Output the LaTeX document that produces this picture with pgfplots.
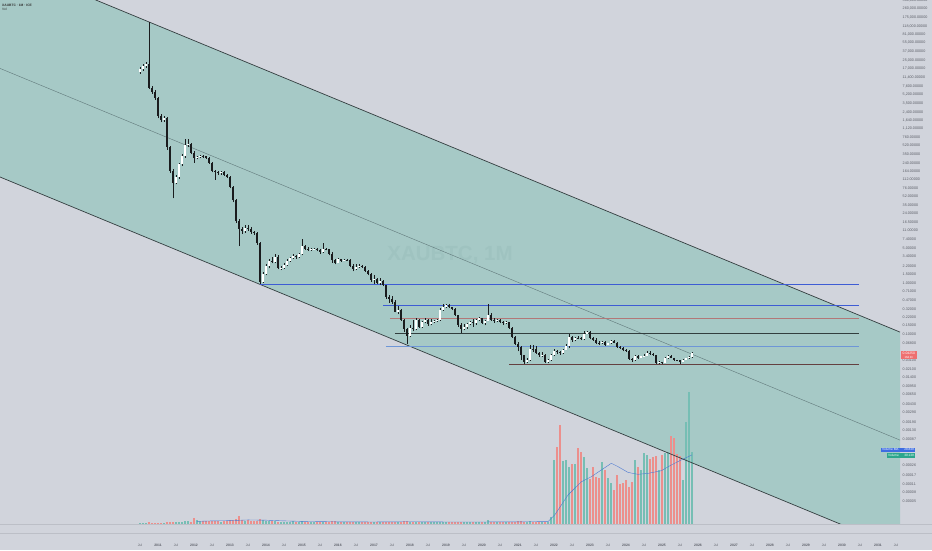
\documentclass[border=0pt]{standalone}
\usepackage{pgfplots}
\pgfplotsset{compat=1.18}
\usepackage{fontspec}
\setmainfont{Liberation Sans}
\definecolor{bgc}{RGB}{209,212,220}
\definecolor{chan}{RGB}{166,201,198}
\definecolor{chanline}{RGB}{52,62,64}
\definecolor{midline}{RGB}{96,120,122}
\definecolor{candle}{RGB}{26,28,30}
\definecolor{volup}{RGB}{118,190,180}
\definecolor{voldn}{RGB}{236,143,140}
\definecolor{maline}{RGB}{74,120,210}
\definecolor{hblue}{RGB}{62,92,212}
\definecolor{hred}{RGB}{178,120,120}
\definecolor{hdark}{RGB}{50,62,62}
\definecolor{hlblue}{RGB}{110,150,215}
\definecolor{hbrown}{RGB}{100,64,64}
\definecolor{lbl}{RGB}{92,95,104}
\definecolor{sep}{RGB}{188,191,199}
\definecolor{wmark}{RGB}{159,195,192}
\definecolor{redbox}{RGB}{238,112,112}
\definecolor{bluebox}{RGB}{62,108,226}
\definecolor{greenbox}{RGB}{44,166,140}
\pgfplotsset{
  myframe/.style={scale only axis, width=900pt, height=524pt, at={(0pt,-524pt)}, anchor=south west,
    xmin=2006.6111, xmax=2031.6111},
}
\tikzset{plab/.style={anchor=west, inner sep=0pt, font=\fontsize{3.7}{4}\selectfont, text=lbl}}
\begin{document}
\begin{tikzpicture}
\useasboundingbox (0pt,0pt) rectangle (932pt,-550pt);
\fill[bgc] (0pt,0pt) rectangle (932pt,-550pt);
% ---------- price axis: channel fill + time scale
\begin{axis}[myframe, ymode=log, ymin=1.84e-5, ymax=3.855e5,
  axis line style={draw=none}, major tick length=0pt, minor tick length=0pt,
  ytick=\empty, xtick pos=bottom,
  xtick={2010.5,2011,...,2031.5},
  xticklabels={Jul,\textbf{2011},Jul,\textbf{2012},Jul,\textbf{2013},Jul,\textbf{2014},Jul,\textbf{2015},Jul,\textbf{2016},Jul,\textbf{2017},Jul,\textbf{2018},Jul,\textbf{2019},Jul,\textbf{2020},Jul,\textbf{2021},Jul,\textbf{2022},Jul,\textbf{2023},Jul,\textbf{2024},Jul,\textbf{2025},Jul,\textbf{2026},Jul,\textbf{2027},Jul,\textbf{2028},Jul,\textbf{2029},Jul,\textbf{2030},Jul,\textbf{2031},Jul},
  xticklabel style={font=\fontsize{3.4}{4}\selectfont, text=lbl, anchor=center, inner sep=0pt, yshift=-21pt},
]
\addplot[fill=chan, draw=none] coordinates {(2006.6111,2.32e6) (2031.6111,0.1109) (2031.6111,6.0e-6) (2006.6111,125.8) (2006.6111,2.32e6)};
\end{axis}
% price scale labels (log scale: Y = 50.768*(5.586 - log10 v))
\node[plab] at (902.5pt,-0.31pt) {380,000.00000};
\node[plab] at (902.5pt,-8.68pt) {260,000.00000};
\node[plab] at (902.5pt,-17.41pt) {175,000.00000};
\node[plab] at (902.5pt,-26.10pt) {118,000.00000};
\node[plab] at (902.5pt,-34.40pt) {81,000.00000};
\node[plab] at (902.5pt,-42.93pt) {55,000.00000};
\node[plab] at (902.5pt,-51.67pt) {37,000.00000};
\node[plab] at (902.5pt,-60.32pt) {25,000.00000};
\node[plab] at (902.5pt,-68.82pt) {17,000.00000};
\node[plab] at (902.5pt,-77.63pt) {11,400.00000};
\node[plab] at (902.5pt,-86.57pt) {7,600.00000};
\node[plab] at (902.5pt,-94.93pt) {5,200.00000};
\node[plab] at (902.5pt,-103.66pt) {3,500.00000};
\node[plab] at (902.5pt,-111.98pt) {2,400.00000};
\node[plab] at (902.5pt,-120.38pt) {1,640.00000};
\node[plab] at (902.5pt,-128.79pt) {1,120.00000};
\node[plab] at (902.5pt,-137.34pt) {760.00000};
\node[plab] at (902.5pt,-145.70pt) {520.00000};
\node[plab] at (902.5pt,-154.43pt) {350.00000};
\node[plab] at (902.5pt,-162.75pt) {240.00000};
\node[plab] at (902.5pt,-171.15pt) {164.00000};
\node[plab] at (902.5pt,-179.55pt) {112.00000};
\node[plab] at (902.5pt,-188.10pt) {76.00000};
\node[plab] at (902.5pt,-196.47pt) {52.00000};
\node[plab] at (902.5pt,-205.19pt) {35.00000};
\node[plab] at (902.5pt,-213.51pt) {24.00000};
\node[plab] at (902.5pt,-221.77pt) {16.50000};
\node[plab] at (902.5pt,-230.71pt) {11.00000};
\node[plab] at (902.5pt,-239.46pt) {7.40000};
\node[plab] at (902.5pt,-248.10pt) {5.00000};
\node[plab] at (902.5pt,-256.60pt) {3.40000};
\node[plab] at (902.5pt,-266.20pt) {2.20000};
\node[plab] at (902.5pt,-274.65pt) {1.50000};
\node[plab] at (902.5pt,-283.59pt) {1.00000};
\node[plab] at (902.5pt,-291.14pt) {0.71000};
\node[plab] at (902.5pt,-300.24pt) {0.47000};
\node[plab] at (902.5pt,-308.72pt) {0.32000};
\node[plab] at (902.5pt,-316.98pt) {0.22000};
\node[plab] at (902.5pt,-325.42pt) {0.15000};
\node[plab] at (902.5pt,-334.36pt) {0.10000};
\node[plab] at (902.5pt,-342.86pt) {0.06800};
\node[plab] at (902.5pt,-360.18pt) {0.03100};
\node[plab] at (902.5pt,-368.77pt) {0.02100};
\node[plab] at (902.5pt,-377.71pt) {0.01400};
\node[plab] at (902.5pt,-386.26pt) {0.00950};
\node[plab] at (902.5pt,-394.63pt) {0.00650};
\node[plab] at (902.5pt,-403.73pt) {0.00430};
\node[plab] at (902.5pt,-412.42pt) {0.00290};
\node[plab] at (902.5pt,-421.74pt) {0.00190};
\node[plab] at (902.5pt,-430.11pt) {0.00130};
\node[plab] at (902.5pt,-438.97pt) {0.00087};
\node[plab] at (902.5pt,-465.59pt) {0.00026};
\node[plab] at (902.5pt,-474.97pt) {0.00017};
\node[plab] at (902.5pt,-484.56pt) {0.00011};
\node[plab] at (902.5pt,-492.14pt) {0.00008};
\node[plab] at (902.5pt,-501.08pt) {0.00005};
\node[font=\fontsize{20.5}{22}\selectfont\bfseries, text=wmark, inner sep=0pt] at (450pt,-255pt) {XAUBTC, 1M};
% ---------- volume pane
\begin{axis}[myframe, ymin=0, ymax=218.33, hide axis]
\addplot[ycomb, draw=voldn, line width=2.1pt, mark=none] coordinates {
(2010.750,0.9)(2010.833,0.6)(2010.917,0.5)(2011.000,0.6)(2011.083,0.5)(2011.250,0.8)(2011.333,0.9)(2011.417,1.0)(2011.917,1.0)
(2012.000,2.4)(2012.250,1.2)(2012.333,1.1)(2012.417,1.2)(2012.500,1.4)(2012.583,1.3)(2012.667,1.1)(2012.833,1.2)(2012.917,1.3)
(2013.000,1.5)(2013.083,1.6)(2013.167,2.0)(2013.250,3.3)(2013.333,1.8)(2013.500,1.5)(2013.583,1.3)(2013.667,1.2)(2013.750,1.4)(2013.833,1.9)
(2014.167,1.1)(2014.333,1.0)(2014.833,0.9)(2015.083,1.0)(2015.167,0.9)(2015.417,0.9)(2015.500,0.8)(2015.667,0.8)(2015.750,0.9)(2015.833,1.2)(2015.917,1.2)
(2016.083,0.8)(2016.250,0.7)(2016.333,0.8)(2016.417,0.9)(2016.667,0.7)(2016.750,0.8)(2016.833,0.9)(2016.917,1.0)
(2017.083,0.8)(2017.250,0.9)(2017.333,1.0)(2017.417,1.0)(2017.500,0.9)(2017.583,1.0)(2017.750,1.0)(2017.833,1.1)(2017.917,1.2)
(2018.083,0.9)(2018.250,0.8)(2018.500,0.8)(2019.083,0.7)(2019.167,0.8)(2019.250,0.9)(2019.333,1.0)(2019.417,1.0)(2019.750,0.9)
(2020.000,0.8)(2020.250,0.9)(2020.333,0.8)(2020.500,0.8)(2020.583,0.8)(2020.750,0.8)(2020.833,0.9)(2020.917,1.0)
(2021.000,1.4)(2021.083,1.1)(2021.167,1.0)(2021.417,1.0)(2021.500,0.9)(2021.583,0.8)(2021.750,0.9)
(2022.083,32.2)(2022.167,41.3)(2022.500,25.0)(2022.667,31.5)(2022.750,30.1)
(2023.000,18.8)(2023.083,23.9)(2023.167,19.7)(2023.250,19.0)(2023.417,22.5)(2023.667,14.2)(2023.750,20.4)(2023.833,16.5)(2023.917,17.0)
(2024.000,18.3)(2024.083,15.5)(2024.167,17.6)(2024.333,23.9)(2024.667,27.1)(2024.750,28.0)(2024.833,28.5)
(2025.000,28.8)(2025.250,36.8)(2025.333,35.7)(2025.417,29.0)(2025.500,28.5)
};
\addplot[ycomb, draw=volup, line width=2.1pt, mark=none] coordinates {
(2010.500,0.3)(2010.583,0.4)(2010.667,0.4)(2011.167,0.5)(2011.500,0.8)(2011.583,0.9)(2011.667,1.0)(2011.750,1.1)(2011.833,1.2)
(2012.083,1.5)(2012.167,1.3)(2012.750,1.0)(2013.417,1.4)(2013.917,1.6)
(2014.000,1.3)(2014.083,1.2)(2014.250,1.2)(2014.417,0.9)(2014.500,0.9)(2014.583,1.0)(2014.667,1.0)(2014.750,1.1)(2014.917,0.9)
(2015.000,1.4)(2015.250,0.8)(2015.333,0.8)(2015.583,1.0)(2016.000,0.9)(2016.167,0.8)(2016.500,0.8)(2016.583,0.8)
(2017.000,0.9)(2017.167,0.9)(2017.667,0.9)(2018.000,1.0)(2018.167,0.9)(2018.333,0.8)(2018.417,0.7)(2018.583,0.8)(2018.667,0.7)(2018.750,0.7)(2018.833,0.9)(2018.917,0.9)
(2019.000,0.8)(2019.500,0.9)(2019.583,0.8)(2019.667,0.8)(2019.833,0.8)(2019.917,0.8)
(2020.083,0.8)(2020.167,1.5)(2020.417,0.7)(2020.667,0.7)(2021.250,0.9)(2021.333,1.2)(2021.667,0.8)(2021.833,0.9)(2021.917,3.0)
(2022.000,26.7)(2022.250,26.3)(2022.333,26.7)(2022.417,23.9)(2022.583,25.0)(2022.833,28.0)(2022.917,23.2)
(2023.333,25.7)(2023.500,19.0)(2023.583,17.0)(2024.250,26.7)(2024.417,22.5)(2024.500,29.5)(2024.583,28.8)(2024.917,22.5)
(2025.083,29.5)(2025.167,30.1)(2025.583,18.3)(2025.667,42.6)(2025.750,55.1)(2025.833,30.1)
};
\addplot[maline, line width=0.4pt, mark=none] coordinates {
(2012.083,1.1)(2012.5,1.3)(2013.0,1.4)(2013.5,1.7)(2014.0,1.6)(2014.5,1.3)(2015.0,1.1)(2016.0,0.9)(2017.0,0.85)(2018.0,0.95)(2019.0,0.85)(2020.0,0.85)(2021.0,0.9)(2021.833,1.0)
(2022.019,3.75)(2022.389,12.1)(2022.758,17.6)(2023.036,19.7)(2023.314,22.5)(2023.592,25.3)(2023.778,23.9)(2024.056,21.5)(2024.333,20.7)(2024.611,21.1)(2024.981,22.2)(2025.258,24.6)(2025.536,26.7)(2025.722,28.0)(2025.833,28.8)
};
\end{axis}
% ---------- drawings and candles
\begin{axis}[myframe, ymode=log, ymin=1.84e-5, ymax=3.855e5, hide axis, unbounded coords=jump]
\addplot[midline, line width=0.4pt] coordinates {(2006.6111,17330) (2031.6111,8.27e-4)};
\addplot[chanline, line width=0.7pt] coordinates {(2006.6111,2.32e6) (2031.6111,0.1109)};
\addplot[chanline, line width=0.7pt] coordinates {(2006.6111,125.8) (2031.6111,6.0e-6)};
\addplot[hblue, line width=0.7pt] coordinates {(2013.833,0.969) (2030.481,0.969)};
\addplot[hblue, line width=0.7pt] coordinates {(2017.258,0.367) (2030.481,0.367)};
\addplot[hred, line width=0.5pt] coordinates {(2017.444,0.2072) (2030.481,0.2072)};
\addplot[hdark, line width=0.6pt] coordinates {(2017.583,0.105) (2030.481,0.105)};
\addplot[hlblue, line width=0.5pt] coordinates {(2017.333,0.059) (2030.481,0.059)};
\addplot[hbrown, line width=0.6pt] coordinates {(2020.758,0.02573) (2030.481,0.02573)};
% wicks (low, high)
\addplot[candle, line width=0.5pt] coordinates {
(2010.500,13500)(2010.500,18500)(2010.500,nan)
(2010.583,15500)(2010.583,21500)(2010.583,nan)
(2010.667,18000)(2010.667,23000)(2010.667,nan)
(2010.750,6800)(2010.750,140000)(2010.750,nan)
(2010.833,5500)(2010.833,7800)(2010.833,nan)
(2010.917,4200)(2010.917,6500)(2010.917,nan)
(2011.000,1800)(2011.000,4800)(2011.000,nan)
(2011.083,1500)(2011.083,2200)(2011.083,nan)
(2011.167,1550)(2011.167,2000)(2011.167,nan)
(2011.250,430)(2011.250,1900)(2011.250,nan)
(2011.333,150)(2011.333,520)(2011.333,nan)
(2011.417,48)(2011.417,180)(2011.417,nan)
(2011.500,90)(2011.500,140)(2011.500,nan)
(2011.583,115)(2011.583,240)(2011.583,nan)
(2011.667,210)(2011.667,360)(2011.667,nan)
(2011.750,300)(2011.750,700)(2011.750,nan)
(2011.833,480)(2011.833,720)(2011.833,nan)
(2011.917,350)(2011.917,600)(2011.917,nan)
(2012.000,240)(2012.000,400)(2012.000,nan)
(2012.083,280)(2012.083,330)(2012.083,nan)
(2012.167,295)(2012.167,345)(2012.167,nan)
(2012.250,300)(2012.250,340)(2012.250,nan)
(2012.333,285)(2012.333,330)(2012.333,nan)
(2012.417,230)(2012.417,310)(2012.417,nan)
(2012.500,155)(2012.500,250)(2012.500,nan)
(2012.583,110)(2012.583,175)(2012.583,nan)
(2012.667,140)(2012.667,168)(2012.667,nan)
(2012.750,140)(2012.750,165)(2012.750,nan)
(2012.833,132)(2012.833,162)(2012.833,nan)
(2012.917,120)(2012.917,145)(2012.917,nan)
(2013.000,75)(2013.000,132)(2013.000,nan)
(2013.083,40)(2013.083,83)(2013.083,nan)
(2013.167,15.5)(2013.167,46)(2013.167,nan)
(2013.250,5.5)(2013.250,19)(2013.250,nan)
(2013.333,9.5)(2013.333,13)(2013.333,nan)
(2013.417,10)(2013.417,14)(2013.417,nan)
(2013.500,11)(2013.500,14)(2013.500,nan)
(2013.583,9.6)(2013.583,12.8)(2013.583,nan)
(2013.667,9.0)(2013.667,11)(2013.667,nan)
(2013.750,5.8)(2013.750,10.3)(2013.750,nan)
(2013.833,0.97)(2013.833,6.6)(2013.833,nan)
(2013.917,1.05)(2013.917,1.7)(2013.917,nan)
(2014.000,1.45)(2014.000,2.4)(2014.000,nan)
(2014.083,2.0)(2014.083,3.1)(2014.083,nan)
(2014.167,2.5)(2014.167,3.4)(2014.167,nan)
(2014.250,2.5)(2014.250,3.9)(2014.250,nan)
(2014.333,1.9)(2014.333,3.6)(2014.333,nan)
(2014.417,1.85)(2014.417,2.2)(2014.417,nan)
(2014.500,1.95)(2014.500,2.5)(2014.500,nan)
(2014.583,2.25)(2014.583,3.0)(2014.583,nan)
(2014.667,2.7)(2014.667,3.4)(2014.667,nan)
(2014.750,3.1)(2014.750,3.8)(2014.750,nan)
(2014.833,3.1)(2014.833,3.7)(2014.833,nan)
(2014.917,3.2)(2014.917,4.0)(2014.917,nan)
(2015.000,3.6)(2015.000,7.5)(2015.000,nan)
(2015.083,4.6)(2015.083,5.8)(2015.083,nan)
(2015.167,4.4)(2015.167,5.2)(2015.167,nan)
(2015.250,4.4)(2015.250,5.0)(2015.250,nan)
(2015.333,4.6)(2015.333,5.1)(2015.333,nan)
(2015.417,4.3)(2015.417,5.1)(2015.417,nan)
(2015.500,3.9)(2015.500,4.7)(2015.500,nan)
(2015.583,4.0)(2015.583,6.2)(2015.583,nan)
(2015.667,4.5)(2015.667,5.1)(2015.667,nan)
(2015.750,3.6)(2015.750,4.9)(2015.750,nan)
(2015.833,2.6)(2015.833,4.1)(2015.833,nan)
(2015.917,2.4)(2015.917,3.1)(2015.917,nan)
(2016.000,2.5)(2016.000,3.2)(2016.000,nan)
(2016.083,2.7)(2016.083,3.1)(2016.083,nan)
(2016.167,2.75)(2016.167,3.1)(2016.167,nan)
(2016.250,2.8)(2016.250,3.05)(2016.250,nan)
(2016.333,2.1)(2016.333,3.0)(2016.333,nan)
(2016.417,1.75)(2016.417,2.4)(2016.417,nan)
(2016.500,1.85)(2016.500,2.4)(2016.500,nan)
(2016.583,2.05)(2016.583,2.4)(2016.583,nan)
(2016.667,2.05)(2016.667,2.35)(2016.667,nan)
(2016.750,1.7)(2016.750,2.2)(2016.750,nan)
(2016.833,1.45)(2016.833,1.85)(2016.833,nan)
(2016.917,1.1)(2016.917,1.6)(2016.917,nan)
(2017.000,1.0)(2017.000,1.5)(2017.000,nan)
(2017.083,1.0)(2017.083,1.3)(2017.083,nan)
(2017.167,0.95)(2017.167,1.3)(2017.167,nan)
(2017.250,0.88)(2017.250,1.2)(2017.250,nan)
(2017.333,0.5)(2017.333,0.95)(2017.333,nan)
(2017.417,0.42)(2017.417,0.6)(2017.417,nan)
(2017.500,0.4)(2017.500,0.56)(2017.500,nan)
(2017.583,0.27)(2017.583,0.47)(2017.583,nan)
(2017.667,0.25)(2017.667,0.36)(2017.667,nan)
(2017.750,0.185)(2017.750,0.31)(2017.750,nan)
(2017.833,0.11)(2017.833,0.2)(2017.833,nan)
(2017.917,0.066)(2017.917,0.135)(2017.917,nan)
(2018.000,0.088)(2018.000,0.155)(2018.000,nan)
(2018.083,0.115)(2018.083,0.19)(2018.083,nan)
(2018.167,0.12)(2018.167,0.21)(2018.167,nan)
(2018.250,0.135)(2018.250,0.2)(2018.250,nan)
(2018.333,0.135)(2018.333,0.18)(2018.333,nan)
(2018.417,0.165)(2018.417,0.21)(2018.417,nan)
(2018.500,0.148)(2018.500,0.2)(2018.500,nan)
(2018.583,0.15)(2018.583,0.2)(2018.583,nan)
(2018.667,0.165)(2018.667,0.19)(2018.667,nan)
(2018.750,0.175)(2018.750,0.2)(2018.750,nan)
(2018.833,0.185)(2018.833,0.33)(2018.833,nan)
(2018.917,0.29)(2018.917,0.4)(2018.917,nan)
(2019.000,0.33)(2019.000,0.4)(2019.000,nan)
(2019.083,0.33)(2019.083,0.39)(2019.083,nan)
(2019.167,0.3)(2019.167,0.35)(2019.167,nan)
(2019.250,0.23)(2019.250,0.33)(2019.250,nan)
(2019.333,0.14)(2019.333,0.245)(2019.333,nan)
(2019.417,0.105)(2019.417,0.165)(2019.417,nan)
(2019.500,0.12)(2019.500,0.16)(2019.500,nan)
(2019.583,0.13)(2019.583,0.165)(2019.583,nan)
(2019.667,0.15)(2019.667,0.185)(2019.667,nan)
(2019.750,0.14)(2019.750,0.2)(2019.750,nan)
(2019.833,0.155)(2019.833,0.2)(2019.833,nan)
(2019.917,0.185)(2019.917,0.22)(2019.917,nan)
(2020.000,0.16)(2020.000,0.215)(2020.000,nan)
(2020.083,0.15)(2020.083,0.19)(2020.083,nan)
(2020.167,0.18)(2020.167,0.4)(2020.167,nan)
(2020.250,0.185)(2020.250,0.26)(2020.250,nan)
(2020.333,0.17)(2020.333,0.21)(2020.333,nan)
(2020.417,0.175)(2020.417,0.2)(2020.417,nan)
(2020.500,0.165)(2020.500,0.2)(2020.500,nan)
(2020.583,0.155)(2020.583,0.18)(2020.583,nan)
(2020.667,0.16)(2020.667,0.18)(2020.667,nan)
(2020.750,0.13)(2020.750,0.178)(2020.750,nan)
(2020.833,0.085)(2020.833,0.14)(2020.833,nan)
(2020.917,0.062)(2020.917,0.093)(2020.917,nan)
(2021.000,0.046)(2021.000,0.07)(2021.000,nan)
(2021.083,0.032)(2021.083,0.058)(2021.083,nan)
(2021.167,0.0265)(2021.167,0.04)(2021.167,nan)
(2021.250,0.0268)(2021.250,0.0345)(2021.250,nan)
(2021.333,0.03)(2021.333,0.062)(2021.333,nan)
(2021.417,0.045)(2021.417,0.063)(2021.417,nan)
(2021.500,0.042)(2021.500,0.059)(2021.500,nan)
(2021.583,0.036)(2021.583,0.045)(2021.583,nan)
(2021.667,0.0365)(2021.667,0.044)(2021.667,nan)
(2021.750,0.0279)(2021.750,0.041)(2021.750,nan)
(2021.833,0.0268)(2021.833,0.033)(2021.833,nan)
(2021.917,0.03)(2021.917,0.042)(2021.917,nan)
(2022.000,0.038)(2022.000,0.052)(2022.000,nan)
(2022.083,0.041)(2022.083,0.05)(2022.083,nan)
(2022.167,0.04)(2022.167,0.046)(2022.167,nan)
(2022.250,0.041)(2022.250,0.052)(2022.250,nan)
(2022.333,0.049)(2022.333,0.066)(2022.333,nan)
(2022.417,0.055)(2022.417,0.102)(2022.417,nan)
(2022.500,0.071)(2022.500,0.094)(2022.500,nan)
(2022.583,0.073)(2022.583,0.09)(2022.583,nan)
(2022.667,0.08)(2022.667,0.092)(2022.667,nan)
(2022.750,0.077)(2022.750,0.087)(2022.750,nan)
(2022.833,0.077)(2022.833,0.114)(2022.833,nan)
(2022.917,0.1)(2022.917,0.116)(2022.917,nan)
(2023.000,0.08)(2023.000,0.114)(2023.000,nan)
(2023.083,0.075)(2023.083,0.087)(2023.083,nan)
(2023.167,0.064)(2023.167,0.086)(2023.167,nan)
(2023.250,0.063)(2023.250,0.073)(2023.250,nan)
(2023.333,0.066)(2023.333,0.075)(2023.333,nan)
(2023.417,0.06)(2023.417,0.075)(2023.417,nan)
(2023.500,0.062)(2023.500,0.069)(2023.500,nan)
(2023.583,0.066)(2023.583,0.077)(2023.583,nan)
(2023.667,0.067)(2023.667,0.076)(2023.667,nan)
(2023.750,0.055)(2023.750,0.07)(2023.750,nan)
(2023.833,0.052)(2023.833,0.059)(2023.833,nan)
(2023.917,0.046)(2023.917,0.056)(2023.917,nan)
(2024.000,0.045)(2024.000,0.052)(2024.000,nan)
(2024.083,0.032)(2024.083,0.049)(2024.083,nan)
(2024.167,0.0285)(2024.167,0.035)(2024.167,nan)
(2024.250,0.03)(2024.250,0.039)(2024.250,nan)
(2024.333,0.033)(2024.333,0.039)(2024.333,nan)
(2024.417,0.034)(2024.417,0.038)(2024.417,nan)
(2024.500,0.036)(2024.500,0.042)(2024.500,nan)
(2024.583,0.037)(2024.583,0.046)(2024.583,nan)
(2024.667,0.04)(2024.667,0.046)(2024.667,nan)
(2024.750,0.038)(2024.750,0.043)(2024.750,nan)
(2024.833,0.0262)(2024.833,0.04)(2024.833,nan)
(2024.917,0.0262)(2024.917,0.0295)(2024.917,nan)
(2025.000,0.0262)(2025.000,0.029)(2025.000,nan)
(2025.083,0.027)(2025.083,0.036)(2025.083,nan)
(2025.167,0.033)(2025.167,0.04)(2025.167,nan)
(2025.250,0.034)(2025.250,0.04)(2025.250,nan)
(2025.333,0.0305)(2025.333,0.035)(2025.333,nan)
(2025.417,0.0295)(2025.417,0.032)(2025.417,nan)
(2025.500,0.0265)(2025.500,0.031)(2025.500,nan)
(2025.583,0.028)(2025.583,0.033)(2025.583,nan)
(2025.667,0.031)(2025.667,0.035)(2025.667,nan)
(2025.750,0.033)(2025.750,0.038)(2025.750,nan)
(2025.833,0.035)(2025.833,0.045)(2025.833,nan)
};
% down bodies (open, close)
\addplot[candle, line width=2pt] coordinates {
(2010.750,21000)(2010.750,7200)(2010.750,nan)
(2010.833,7200)(2010.833,6000)(2010.833,nan)
(2010.917,6000)(2010.917,4500)(2010.917,nan)
(2011.000,4500)(2011.000,2000)(2011.000,nan)
(2011.083,2000)(2011.083,1650)(2011.083,nan)
(2011.250,1800)(2011.250,480)(2011.250,nan)
(2011.333,480)(2011.333,165)(2011.333,nan)
(2011.417,165)(2011.417,97)(2011.417,nan)
(2011.917,560)(2011.917,380)(2011.917,nan)
(2012.000,380)(2012.000,300)(2012.000,nan)
(2012.250,325)(2012.250,320)(2012.250,nan)
(2012.333,320)(2012.333,300)(2012.333,nan)
(2012.417,300)(2012.417,242)(2012.417,nan)
(2012.500,242)(2012.500,165)(2012.500,nan)
(2012.583,165)(2012.583,160)(2012.583,nan)
(2012.667,160)(2012.667,150)(2012.667,nan)
(2012.833,158)(2012.833,140)(2012.833,nan)
(2012.917,140)(2012.917,128)(2012.917,nan)
(2013.000,128)(2013.000,80)(2013.000,nan)
(2013.083,80)(2013.083,44)(2013.083,nan)
(2013.167,44)(2013.167,17)(2013.167,nan)
(2013.250,17)(2013.250,11.8)(2013.250,nan)
(2013.333,11.8)(2013.333,11.0)(2013.333,nan)
(2013.500,12.5)(2013.500,12.0)(2013.500,nan)
(2013.583,12.0)(2013.583,10.3)(2013.583,nan)
(2013.667,10.3)(2013.667,9.8)(2013.667,nan)
(2013.750,9.8)(2013.750,6.2)(2013.750,nan)
(2013.833,6.2)(2013.833,1.1)(2013.833,nan)
(2014.167,2.8)(2014.167,2.7)(2014.167,nan)
(2014.333,3.4)(2014.333,2.0)(2014.333,nan)
(2014.833,3.5)(2014.833,3.3)(2014.833,nan)
(2015.083,5.5)(2015.083,4.9)(2015.083,nan)
(2015.167,4.9)(2015.167,4.6)(2015.167,nan)
(2015.417,4.9)(2015.417,4.5)(2015.417,nan)
(2015.500,4.5)(2015.500,4.1)(2015.500,nan)
(2015.667,4.9)(2015.667,4.7)(2015.667,nan)
(2015.750,4.7)(2015.750,3.9)(2015.750,nan)
(2015.833,3.9)(2015.833,2.9)(2015.833,nan)
(2015.917,2.9)(2015.917,2.6)(2015.917,nan)
(2016.083,3.0)(2016.083,2.85)(2016.083,nan)
(2016.250,2.95)(2016.250,2.9)(2016.250,nan)
(2016.333,2.9)(2016.333,2.2)(2016.333,nan)
(2016.417,2.2)(2016.417,1.95)(2016.417,nan)
(2016.667,2.25)(2016.667,2.15)(2016.667,nan)
(2016.750,2.15)(2016.750,1.8)(2016.750,nan)
(2016.833,1.8)(2016.833,1.55)(2016.833,nan)
(2016.917,1.55)(2016.917,1.2)(2016.917,nan)
(2017.083,1.22)(2017.083,1.05)(2017.083,nan)
(2017.250,1.15)(2017.250,0.92)(2017.250,nan)
(2017.333,0.92)(2017.333,0.55)(2017.333,nan)
(2017.417,0.55)(2017.417,0.5)(2017.417,nan)
(2017.500,0.5)(2017.500,0.44)(2017.500,nan)
(2017.583,0.44)(2017.583,0.28)(2017.583,nan)
(2017.750,0.3)(2017.750,0.196)(2017.750,nan)
(2017.833,0.196)(2017.833,0.125)(2017.833,nan)
(2017.917,0.125)(2017.917,0.092)(2017.917,nan)
(2018.083,0.132)(2018.083,0.127)(2018.083,nan)
(2018.250,0.19)(2018.250,0.142)(2018.250,nan)
(2018.500,0.196)(2018.500,0.158)(2018.500,nan)
(2019.083,0.382)(2019.083,0.341)(2019.083,nan)
(2019.167,0.341)(2019.167,0.315)(2019.167,nan)
(2019.250,0.315)(2019.250,0.24)(2019.250,nan)
(2019.333,0.24)(2019.333,0.152)(2019.333,nan)
(2019.417,0.152)(2019.417,0.13)(2019.417,nan)
(2019.750,0.177)(2019.750,0.164)(2019.750,nan)
(2020.000,0.211)(2020.000,0.17)(2020.000,nan)
(2020.250,0.245)(2020.250,0.195)(2020.250,nan)
(2020.333,0.195)(2020.333,0.183)(2020.333,nan)
(2020.500,0.195)(2020.500,0.174)(2020.500,nan)
(2020.583,0.174)(2020.583,0.169)(2020.583,nan)
(2020.750,0.175)(2020.750,0.136)(2020.750,nan)
(2020.833,0.136)(2020.833,0.09)(2020.833,nan)
(2020.917,0.09)(2020.917,0.0654)(2020.917,nan)
(2021.000,0.0654)(2021.000,0.0558)(2021.000,nan)
(2021.083,0.0558)(2021.083,0.0384)(2021.083,nan)
(2021.167,0.0384)(2021.167,0.029)(2021.167,nan)
(2021.417,0.0511)(2021.417,0.0506)(2021.417,nan)
(2021.500,0.0506)(2021.500,0.0437)(2021.500,nan)
(2021.583,0.0437)(2021.583,0.0385)(2021.583,nan)
(2021.750,0.0398)(2021.750,0.0291)(2021.750,nan)
(2022.083,0.0467)(2022.083,0.0442)(2022.083,nan)
(2022.167,0.0442)(2022.167,0.0426)(2022.167,nan)
(2022.500,0.0908)(2022.500,0.0758)(2022.500,nan)
(2022.667,0.0856)(2022.667,0.085)(2022.667,nan)
(2022.750,0.085)(2022.750,0.0797)(2022.750,nan)
(2023.000,0.111)(2023.000,0.0835)(2023.000,nan)
(2023.083,0.0835)(2023.083,0.0791)(2023.083,nan)
(2023.167,0.0791)(2023.167,0.0691)(2023.167,nan)
(2023.250,0.0691)(2023.250,0.0682)(2023.250,nan)
(2023.417,0.0722)(2023.417,0.0629)(2023.417,nan)
(2023.667,0.0749)(2023.667,0.0685)(2023.667,nan)
(2023.750,0.0685)(2023.750,0.0571)(2023.750,nan)
(2023.833,0.0571)(2023.833,0.054)(2023.833,nan)
(2023.917,0.054)(2023.917,0.0488)(2023.917,nan)
(2024.000,0.0488)(2024.000,0.0479)(2024.000,nan)
(2024.083,0.0479)(2024.083,0.0334)(2024.083,nan)
(2024.167,0.0334)(2024.167,0.0313)(2024.167,nan)
(2024.333,0.0377)(2024.333,0.0345)(2024.333,nan)
(2024.667,0.0424)(2024.667,0.0416)(2024.667,nan)
(2024.750,0.0416)(2024.750,0.0391)(2024.750,nan)
(2024.833,0.0391)(2024.833,0.0276)(2024.833,nan)
(2025.000,0.0281)(2025.000,0.0273)(2025.000,nan)
(2025.250,0.0379)(2025.250,0.0349)(2025.250,nan)
(2025.333,0.0349)(2025.333,0.0314)(2025.333,nan)
(2025.417,0.0314)(2025.417,0.0308)(2025.417,nan)
(2025.500,0.0308)(2025.500,0.0284)(2025.500,nan)
};
% up bodies (open, close)
\addplot[draw=candle, double=white, double distance=1.1pt, line width=0.45pt] coordinates {
(2010.500,14500)(2010.500,16900)(2010.500,nan)
(2010.583,16900)(2010.583,19500)(2010.583,nan)
(2010.667,19500)(2010.667,21000)(2010.667,nan)
(2011.167,1650)(2011.167,1800)(2011.167,nan)
(2011.500,97)(2011.500,125)(2011.500,nan)
(2011.583,125)(2011.583,225)(2011.583,nan)
(2011.667,225)(2011.667,320)(2011.667,nan)
(2011.750,320)(2011.750,540)(2011.750,nan)
(2011.833,540)(2011.833,560)(2011.833,nan)
(2012.083,300)(2012.083,310)(2012.083,nan)
(2012.167,310)(2012.167,325)(2012.167,nan)
(2012.750,150)(2012.750,158)(2012.750,nan)
(2013.417,11.0)(2013.417,12.5)(2013.417,nan)
(2013.917,1.1)(2013.917,1.55)(2013.917,nan)
(2014.000,1.55)(2014.000,2.2)(2014.000,nan)
(2014.083,2.2)(2014.083,2.8)(2014.083,nan)
(2014.250,2.7)(2014.250,3.4)(2014.250,nan)
(2014.417,2.0)(2014.417,2.05)(2014.417,nan)
(2014.500,2.05)(2014.500,2.35)(2014.500,nan)
(2014.583,2.35)(2014.583,2.8)(2014.583,nan)
(2014.667,2.8)(2014.667,3.25)(2014.667,nan)
(2014.750,3.25)(2014.750,3.5)(2014.750,nan)
(2014.917,3.3)(2014.917,3.8)(2014.917,nan)
(2015.000,3.8)(2015.000,5.5)(2015.000,nan)
(2015.250,4.6)(2015.250,4.8)(2015.250,nan)
(2015.333,4.8)(2015.333,4.9)(2015.333,nan)
(2015.583,4.1)(2015.583,4.9)(2015.583,nan)
(2016.000,2.6)(2016.000,3.0)(2016.000,nan)
(2016.167,2.85)(2016.167,2.95)(2016.167,nan)
(2016.500,1.95)(2016.500,2.15)(2016.500,nan)
(2016.583,2.15)(2016.583,2.25)(2016.583,nan)
(2017.000,1.2)(2017.000,1.22)(2017.000,nan)
(2017.167,1.05)(2017.167,1.15)(2017.167,nan)
(2017.667,0.28)(2017.667,0.3)(2017.667,nan)
(2018.000,0.092)(2018.000,0.132)(2018.000,nan)
(2018.167,0.127)(2018.167,0.19)(2018.167,nan)
(2018.333,0.142)(2018.333,0.173)(2018.333,nan)
(2018.417,0.173)(2018.417,0.196)(2018.417,nan)
(2018.583,0.158)(2018.583,0.172)(2018.583,nan)
(2018.667,0.172)(2018.667,0.18)(2018.667,nan)
(2018.750,0.18)(2018.750,0.192)(2018.750,nan)
(2018.833,0.192)(2018.833,0.302)(2018.833,nan)
(2018.917,0.302)(2018.917,0.343)(2018.917,nan)
(2019.000,0.343)(2019.000,0.382)(2019.000,nan)
(2019.500,0.13)(2019.500,0.14)(2019.500,nan)
(2019.583,0.14)(2019.583,0.158)(2019.583,nan)
(2019.667,0.158)(2019.667,0.177)(2019.667,nan)
(2019.833,0.164)(2019.833,0.193)(2019.833,nan)
(2019.917,0.193)(2019.917,0.211)(2019.917,nan)
(2020.083,0.17)(2020.083,0.186)(2020.083,nan)
(2020.167,0.186)(2020.167,0.245)(2020.167,nan)
(2020.417,0.183)(2020.417,0.195)(2020.417,nan)
(2020.667,0.169)(2020.667,0.175)(2020.667,nan)
(2021.250,0.029)(2021.250,0.0307)(2021.250,nan)
(2021.333,0.0307)(2021.333,0.0511)(2021.333,nan)
(2021.667,0.0385)(2021.667,0.0398)(2021.667,nan)
(2021.833,0.0291)(2021.833,0.0311)(2021.833,nan)
(2021.917,0.0311)(2021.917,0.0395)(2021.917,nan)
(2022.000,0.0395)(2022.000,0.0467)(2022.000,nan)
(2022.250,0.0426)(2022.250,0.0503)(2022.250,nan)
(2022.333,0.0503)(2022.333,0.0578)(2022.333,nan)
(2022.417,0.0578)(2022.417,0.0908)(2022.417,nan)
(2022.583,0.0758)(2022.583,0.0856)(2022.583,nan)
(2022.833,0.0797)(2022.833,0.103)(2022.833,nan)
(2022.917,0.103)(2022.917,0.111)(2022.917,nan)
(2023.333,0.0682)(2023.333,0.0722)(2023.333,nan)
(2023.500,0.0629)(2023.500,0.0673)(2023.500,nan)
(2023.583,0.0673)(2023.583,0.0749)(2023.583,nan)
(2024.250,0.0313)(2024.250,0.0377)(2024.250,nan)
(2024.417,0.0345)(2024.417,0.0371)(2024.417,nan)
(2024.500,0.0371)(2024.500,0.0379)(2024.500,nan)
(2024.583,0.0379)(2024.583,0.0424)(2024.583,nan)
(2024.917,0.0276)(2024.917,0.0281)(2024.917,nan)
(2025.083,0.0273)(2025.083,0.0339)(2025.083,nan)
(2025.167,0.0339)(2025.167,0.0379)(2025.167,nan)
(2025.583,0.0284)(2025.583,0.0319)(2025.583,nan)
(2025.667,0.0319)(2025.667,0.0338)(2025.667,nan)
(2025.750,0.0338)(2025.750,0.0365)(2025.750,nan)
(2025.833,0.0365)(2025.833,0.0425)(2025.833,nan)
};
\end{axis}
% ---------- separators, labels on the scale, legend
\draw[sep, line width=0.5pt] (0pt,-524.3pt) -- (932pt,-524.3pt);
\draw[sep, line width=0.5pt] (0pt,-533pt) -- (932pt,-533pt);
\fill[redbox] (900.5pt,-351.4pt) rectangle (917.2pt,-359.4pt);
\node[font=\fontsize{3.4}{3.6}\selectfont, text=white, inner sep=0pt] at (908.8pt,-353.4pt) {0.04250};
\node[font=\fontsize{2.8}{3}\selectfont, text=white, inner sep=0pt] at (908.8pt,-357.3pt) {16d 4h};
\fill[bluebox] (880.7pt,-447.6pt) rectangle (915.4pt,-452.0pt);
\node[font=\fontsize{3.2}{3.4}\selectfont, text=white, inner sep=0pt, anchor=west] at (882pt,-449.8pt) {Volume MA};
\node[font=\fontsize{3.2}{3.4}\selectfont, text=white, inner sep=0pt, anchor=east] at (914.6pt,-449.8pt) {28.83K};
\fill[greenbox] (886.7pt,-453.1pt) rectangle (915.4pt,-457.5pt);
\node[font=\fontsize{3.2}{3.4}\selectfont, text=white, inner sep=0pt, anchor=west] at (888pt,-455.3pt) {Volume};
\node[font=\fontsize{3.2}{3.4}\selectfont, text=white, inner sep=0pt, anchor=east] at (914.6pt,-455.3pt) {30.13K};
\node[font=\fontsize{3.3}{4}\selectfont\bfseries, text=black!80, inner sep=0pt, anchor=west] at (2pt,-5pt) {XAUBTC · 1M · ICE};
\node[font=\fontsize{3.3}{4}\selectfont, text=black!80, inner sep=0pt, anchor=west] at (2pt,-9.5pt) {Vol};
\end{tikzpicture}
\end{document}
